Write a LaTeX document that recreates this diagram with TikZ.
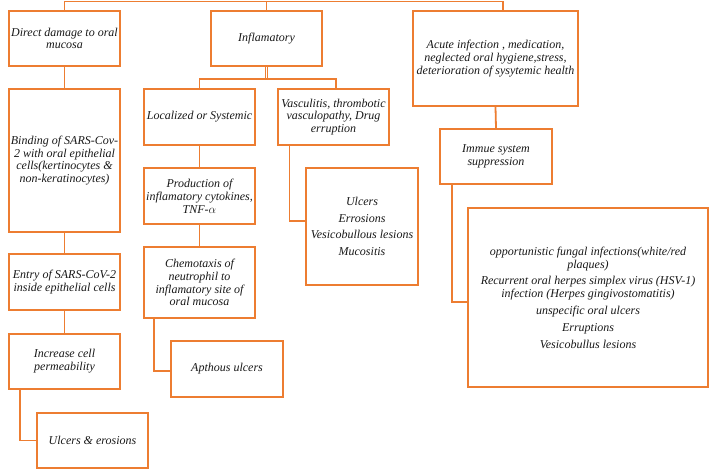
\documentclass[tikz,border=0pt]{standalone}
\usepackage{fontspec}
\setmainfont{Liberation Serif}
\usepackage{tikz}
\usetikzlibrary{positioning}
\definecolor{boxorange}{RGB}{237,125,49}
\definecolor{textgray}{RGB}{25,25,25}

\begin{document}
\begin{tikzpicture}[x=1pt, y=-1pt, every node/.style={font=\fontsize{12}{12.8}\selectfont\itshape, text=textgray}]
\tikzset{
  obox/.style={draw=boxorange, line width=1.8pt, fill=white, align=center, inner sep=1pt},
  link/.style={draw=boxorange, line width=1.8pt},
  dlink/.style={draw=boxorange, line width=1pt, double distance=1.4pt}
}
\useasboundingbox (0,0) rectangle (709,469);
\coordinate (bar) at (0,1.5);
\coordinate (fork) at (266.5,79);
\node[obox, minimum width=111, minimum height=55] (dd) at (64.5,38.5) {Direct damage to oral\\mucosa};
\node[obox, minimum width=111, minimum height=55] (infl) at (266.5,38.5) {Inflamatory};
\node[obox, minimum width=165, minimum height=95] (acute) at (495.5,58.5) {Acute infection , medication,\\neglected oral hygiene,stress,\\deterioration of sysytemic health};
\node[obox, minimum width=111, minimum height=143] (bind) at (64.5,160.5) {Binding of SARS-Cov-\\2 with oral epithelial\\cells(kertinocytes \&\\non-keratinocytes)};
\node[obox, minimum width=111, minimum height=56] (loc) at (199.5,117) {Localized or Systemic};
\node[obox, minimum width=111, minimum height=56] (vasc) at (333.5,117) {Vasculitis, thrombotic\\vasculopathy, Drug\\erruption};
\node[obox, minimum width=112, minimum height=55] (immue) at (496,156.5) {Immue system\\suppression};
\node[obox, minimum width=111, minimum height=56] (prod) at (199.5,196) {Production of\\inflamatory cytokines,\\TNF-$\alpha$};
\node[obox, minimum width=112, minimum height=117] (ulc) at (362,226.5) {Ulcers\\[4pt]Errosions\\[4pt]Vesicobullous lesions\\[4pt]Mucositis};
\node[obox, minimum width=111, minimum height=56] (entry) at (64.5,282) {Entry of SARS-CoV-2\\inside epithelial cells};
\node[obox, minimum width=111, minimum height=71] (chem) at (199.5,282.5) {Chemotaxis of\\neutrophil to\\inflamatory site of\\oral mucosa};
\node[obox, minimum width=240, minimum height=179] (big) at (588,297.5) {opportunistic fungal infections(white/red\\plaques)\\[4pt]Recurrent oral herpes simplex virus (HSV-1)\\infection (Herpes gingivostomatitis)\\[4pt]unspecific oral ulcers\\[4pt]Erruptions\\[4pt]Vesicobullus lesions};
\node[obox, minimum width=111, minimum height=55] (incr) at (64.5,361.5) {Increase cell\\permeability};
\node[obox, minimum width=112, minimum height=56] (apth) at (227,369) {Apthous ulcers};
\node[obox, minimum width=111, minimum height=55] (ue) at (92.5,440.5) {Ulcers \& erosions};
\draw[link] (dd.north) -- (dd.north |- bar) -- ([xshift=7.5pt]acute.north |- bar) -- ([xshift=7.5pt]acute.north);
\draw[link] (infl.north) -- (infl.north |- bar);
\draw[dlink] (infl.south) -- (fork);
\draw[link] (loc.north) -- (loc.north |- fork) -- ([xshift=2.5pt]vasc.north |- fork) -- ([xshift=2.5pt]vasc.north);
\draw[link] (dd.south) -- (bind.north);
\draw[link] (bind.south) -- (entry.north);
\draw[link] (entry.south) -- (incr.north);
\draw[link] ([xshift=-44.5pt]incr.south) |- (ue.west);
\draw[link] (loc.south) -- (prod.north);
\draw[link] (prod.south) -- (chem.north);
\draw[link] ([xshift=-45.5pt]chem.south) |- ([yshift=-2pt]apth.west);
\draw[link] ([xshift=-44pt]vasc.south) |- ([yshift=5.5pt]ulc.west);
\draw[link] (acute.south) -- (immue.north);
\draw[link] ([xshift=-44pt]immue.south) |- ([yshift=-4.5pt]big.west);
\end{tikzpicture}
\end{document}
